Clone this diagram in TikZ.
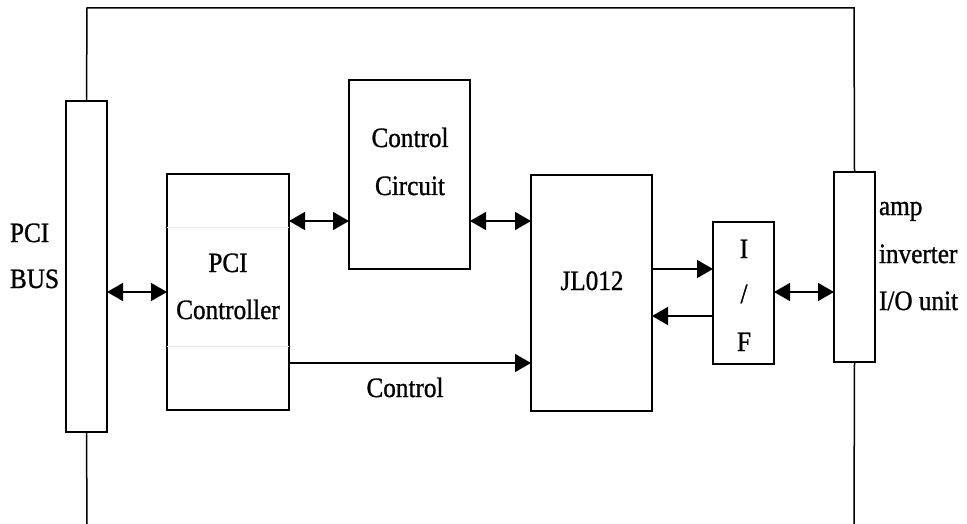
\documentclass[tikz,border=0pt]{standalone}
\usepackage{fontspec}
\setmainfont{Liberation Serif}[FakeStretch=0.9,FakeBold=1]
\usetikzlibrary{arrows.meta}
\begin{document}
\begin{tikzpicture}[x=1pt,y=-1pt,
  box/.style={draw,line width=1.5pt,rectangle,inner sep=0pt,outer sep=0pt},
  lbl/.style={inner sep=0pt,outer sep=0pt,font=\fontsize{28}{32}\selectfont},
  wire/.style={line width=1.5pt},
  onearrow/.style={wire,-{Triangle[length=16pt,width=18pt]}},
  twoarrow/.style={wire,{Triangle[length=16pt,width=18pt]}-{Triangle[length=16pt,width=18pt]}},
  faint/.style={draw=black!8,line width=0.8pt}]
\useasboundingbox (0,0) rectangle (967,524);
% blocks
\node[box,minimum width=41pt,minimum height=331pt] (pcibus) at (86.5,266.5) {};
\node[box,minimum width=122pt,minimum height=236pt] (pcictl) at (228,292) {};
\node[box,minimum width=121pt,minimum height=189pt] (ctlc) at (409.5,174.5) {};
\node[box,minimum width=121pt,minimum height=236pt] (jl) at (591.5,293) {};
\node[box,minimum width=61pt,minimum height=142pt] (iff) at (743.5,293) {};
\node[box,minimum width=41pt,minimum height=190pt] (iobar) at (854.5,267) {};
% helper coordinates
\coordinate (tl) at (87,8);
\coordinate (tr) at (854,8);
\coordinate (bl) at (87,524);
\coordinate (br) at (854,524);
\coordinate (y221) at (0,221);
\coordinate (y292) at (0,292);
\coordinate (y363) at (0,363);
\coordinate (y269) at (0,269);
\coordinate (y316) at (0,316);
\coordinate (y227) at (0,227);
\coordinate (y346) at (0,346);
% outer frame
\draw[wire] (pcibus.north) -- (tl) -- (tr) -- (iobar.north);
\draw[wire] (pcibus.south) -- (bl);
\draw[wire] (iobar.south) -- (br);
% faint lines in controller
\draw[faint] (pcictl.west |- y227) -- (pcictl.east |- y227);
\draw[faint] (pcictl.west |- y346) -- (pcictl.east |- y346);
% connectors
\draw[twoarrow] (pcibus.east |- y292) -- (pcictl.west |- y292);
\draw[twoarrow] (pcictl.east |- y221) -- (ctlc.west |- y221);
\draw[twoarrow] (ctlc.east |- y221) -- (jl.west |- y221);
\draw[onearrow] (pcictl.east |- y363) -- (jl.west |- y363);
\draw[onearrow] (jl.east |- y269) -- (iff.west |- y269);
\draw[onearrow] (iff.west |- y316) -- (jl.east |- y316);
\draw[twoarrow] (iff.east |- y292) -- (iobar.west |- y292);
% texts
\node[lbl,anchor=base west] (t1) at (10,242) {PCI};
\node[lbl,anchor=base west] (t2) at (10,288) {BUS};
\node[lbl,anchor=base] (t3) at (228,272) {PCI};
\node[lbl,anchor=base] (t4) at (228,319) {Controller};
\node[lbl,anchor=base] (t5) at (410,147) {Control};
\node[lbl,anchor=base] (t6) at (410,195) {Circuit};
\node[lbl,anchor=base] (t7) at (592,290) {JL012};
\node[lbl,anchor=base] (t8) at (405,397) {Control};
\node[lbl,anchor=base] (t9) at (744,258) {I};
\node[lbl,anchor=base] (t10) at (744,303) {/};
\node[lbl,anchor=base] (t11) at (744,351) {F};
\node[lbl,anchor=base west] (t12) at (879,215) {amp};
\node[lbl,anchor=base west] (t13) at (879,263) {inverter};
\node[lbl,anchor=base west] (t14) at (879,310) {I/O unit};
\end{tikzpicture}
\end{document}
